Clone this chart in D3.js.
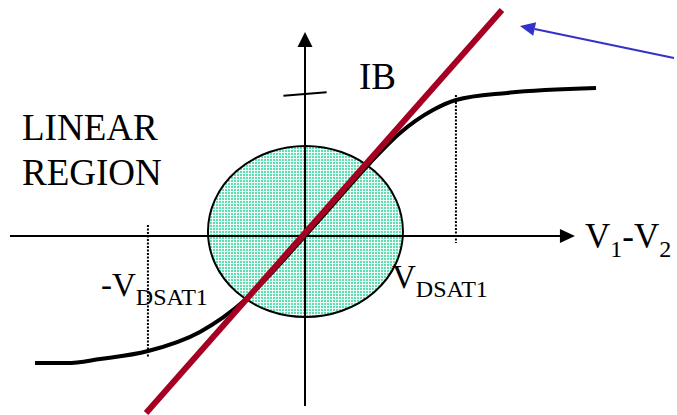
<!DOCTYPE html>
<html>
<head>
<meta charset="utf-8">
<script src="https://cdn.jsdelivr.net/npm/d3@7"></script>
<style>
  body { margin: 0; background: #fff; }
</style>
</head>
<body>
<div id="chart"></div>
<script>
// Donnees (unites : V1-V2 en x, IB en y)
const courbeX = [-1.753, -1.545, -1.331, -1.019, -0.682, -0.39, -0.2, 0, 0.2, 0.422, 0.617, 0.831, 0.981, 1.312, 1.89];
const courbeY = [-0.825, -0.825, -0.799, -0.747, -0.623, -0.416, -0.222, 0, 0.225, 0.474, 0.669, 0.818, 0.883, 0.929, 0.961];
const droiteX = [-1.032, 1.279];
const droiteY = [-1.149, 1.468];
const axeX = [-1.916, 1.753];
const axeY = [-1.104, 1.325];
const vdsat = [-1.02, 0.98];
const pointillesY = [[0.071, -0.786], [0.916, -0.045]];
const zone = {cx: 0.003, cy: 0.029, rx: 0.633, ry: 0.555};
const flecheBleueX = [2.396, 1.396];
const flecheBleueY = [1.156, 1.364];

const width = 677, height = 415;
const police = "'Liberation Serif', 'Times New Roman', 'DejaVu Serif', serif";

const svg = d3.select("#chart")
    .append("svg")
    .attr("width", width)
    .attr("height", height);

const x = d3.scaleLinear().domain([-2, 2]).range([-3, 613]);
const y = d3.scaleLinear().domain([-1.2, 1.6]).range([420.8, -10.4]);

// motif pointille de la zone lineaire
const defs = svg.append("defs");
const pat = defs.append("pattern")
    .attr("id", "points")
    .attr("width", 3).attr("height", 3)
    .attr("patternUnits", "userSpaceOnUse");
pat.append("rect").attr("width", 3).attr("height", 3).attr("fill", "#eefcf6");
pat.append("rect").attr("width", 2).attr("height", 2).attr("fill", "#5edcb2");

// Ellipse
svg.append("ellipse")
    .attr("cx", x(zone.cx))
    .attr("cy", y(zone.cy))
    .attr("rx", x(zone.rx) - x(0))
    .attr("ry", y(0) - y(zone.ry))
    .attr("fill", "url(#points)")
    .attr("stroke", "#000")
    .attr("stroke-width", 2);

// Axes
svg.append("line")
    .attr("x1", x(axeX[0])).attr("x2", x(axeX[1]) - 10)
    .attr("y1", y(0)).attr("y2", y(0))
    .attr("stroke", "#000").attr("stroke-width", 2);
svg.append("path")
    .attr("d", `M${x(axeX[1])},${y(0)} L${x(axeX[1]) - 15},${y(0) - 7} L${x(axeX[1]) - 15},${y(0) + 7} Z`)
    .attr("fill", "#000");

svg.append("line")
    .attr("x1", x(0)).attr("x2", x(0))
    .attr("y1", y(axeY[0])).attr("y2", y(axeY[1]) + 10)
    .attr("stroke", "#000").attr("stroke-width", 2);
svg.append("path")
    .attr("d", `M${x(0)},${y(axeY[1])} L${x(0) - 7.5},${y(axeY[1]) + 15} L${x(0) + 7.5},${y(axeY[1]) + 15} Z`)
    .attr("fill", "#000");

// petit trait sur l'axe vertical
svg.append("line")
    .attr("x1", x(-0.14)).attr("y1", y(0.911))
    .attr("x2", x(0.14)).attr("y2", y(0.933))
    .attr("stroke", "#000").attr("stroke-width", 2);

// Lignes pointillees VDSAT
vdsat.forEach(function(v, i) {
    svg.append("line")
        .attr("x1", x(v)).attr("x2", x(v))
        .attr("y1", y(pointillesY[i][0])).attr("y2", y(pointillesY[i][1]))
        .attr("stroke", "#000")
        .attr("stroke-width", 2)
        .attr("stroke-dasharray", "2,1.5");
});

// Courbe noire
const courbe = courbeX.map(function(d, i) { return {x: d, y: courbeY[i]}; });
svg.append("path")
    .datum(courbe)
    .attr("fill", "none")
    .attr("stroke", "#000")
    .attr("stroke-width", 4)
    .attr("d", d3.line()
        .x(function(d) { return x(d.x); })
        .y(function(d) { return y(d.y); })
        .curve(d3.curveMonotoneX)
    );

// Droite rouge
svg.append("line")
    .attr("x1", x(droiteX[0])).attr("y1", y(droiteY[0]))
    .attr("x2", x(droiteX[1])).attr("y2", y(droiteY[1]))
    .attr("stroke", "#a50021")
    .attr("stroke-width", 6);

// Fleche bleue
const bx0 = x(flecheBleueX[0]), by0 = y(flecheBleueY[0]);
const bx1 = x(flecheBleueX[1]), by1 = y(flecheBleueY[1]);
const ang = Math.atan2(by1 - by0, bx1 - bx0);
const L = 15, W = 7;
const baseX = bx1 - L * Math.cos(ang), baseY = by1 - L * Math.sin(ang);
svg.append("line")
    .attr("x1", bx0).attr("y1", by0)
    .attr("x2", baseX).attr("y2", baseY)
    .attr("stroke", "#3333cc").attr("stroke-width", 2.2);
svg.append("path")
    .attr("d", `M${bx1},${by1} L${baseX + W * Math.sin(ang)},${baseY - W * Math.cos(ang)} L${baseX - W * Math.sin(ang)},${baseY + W * Math.cos(ang)} Z`)
    .attr("fill", "#3333cc");

// Textes
const textes = svg.append("g")
    .style("font-family", police, "important")
    .attr("fill", "#000");

function texte(parent) {
    return parent.append("text").style("font-family", police, "important");
}

texte(textes).attr("x", 22).attr("y", 140).attr("font-size", 37).text("LINEAR");
texte(textes).attr("x", 22).attr("y", 185).attr("font-size", 37).text("REGION");
texte(textes).attr("x", 359).attr("y", 89).attr("font-size", 37).text("IB");

const tv = texte(textes).attr("x", 585).attr("y", 248).attr("font-size", 35);
tv.append("tspan").text("V");
tv.append("tspan").attr("dy", 9).attr("font-size", 24).text("1");
tv.append("tspan").attr("dy", -9).text("-V");
tv.append("tspan").attr("dy", 9).attr("font-size", 24).text("2");

const td = texte(textes).attr("x", 392).attr("y", 288).attr("font-size", 33);
td.append("tspan").text("V");
td.append("tspan").attr("dy", 9).attr("font-size", 24).text("DSAT1");

const tg = texte(textes).attr("x", 101).attr("y", 296).attr("font-size", 33);
tg.append("tspan").text("-V");
tg.append("tspan").attr("dy", 9).attr("font-size", 24).text("DSAT1");
</script>
</body>
</html>
